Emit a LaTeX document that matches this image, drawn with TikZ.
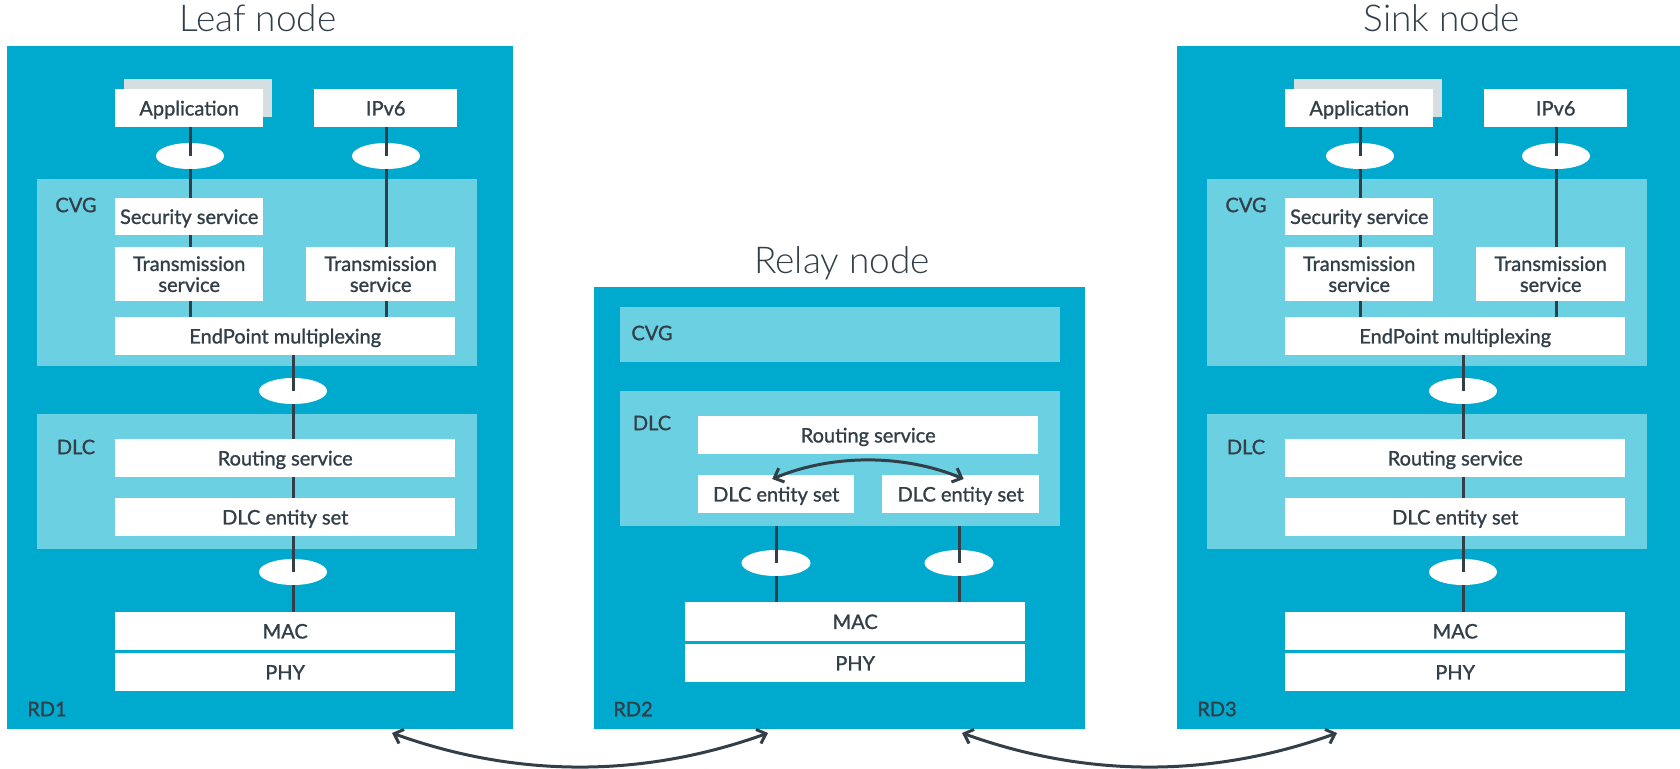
\documentclass[tikz,border=0pt]{standalone}
\usepackage{fontspec}
\setmainfont{Lato}[FakeBold=1.2]
\newfontfamily\titlefont{Lato Light}
\usetikzlibrary{arrows.meta,positioning,shapes.geometric}
\definecolor{panelblue}{RGB}{0,170,206}
\definecolor{layerblue}{RGB}{107,208,225}
\definecolor{ink}{RGB}{51,63,72}
\definecolor{shade}{RGB}{213,223,225}

\begin{document}
\begin{tikzpicture}[x=1pt, y=-1pt,
  panel/.style={fill=panelblue, inner sep=0pt, anchor=north west},
  layer/.style={fill=layerblue, inner sep=0pt, anchor=north west},
  box/.style={fill=white, inner sep=0pt, anchor=north west, text=ink, align=center, font=\fontsize{20}{21}\selectfont},
  one/.style={box, text height=14.5pt, text depth=0pt},
  tag/.style={text=ink, font=\fontsize{20}{21}\selectfont},
  title/.style={text=ink, anchor=base, font=\titlefont\fontsize{37}{40}\selectfont},
  port/.style={ellipse, fill=white, inner sep=0pt, minimum width=68pt, minimum height=26pt},
  link/.style={draw=ink, line width=3pt},
  hop/.style={draw=ink, line width=3pt, >={Straight Barb[length=8pt,width=15pt]}, <->}]
	\path[use as bounding box, fill=white] (0,0) rectangle (1680,768);

	% leaf and sink nodes share one stack
	\foreach \p/\dx/\ttl/\tx/\rd in {L/0/Leaf node/258/RD1, S/1170/Sink node/272/RD3} {
	\begin{scope}[xshift=\dx pt]
	\node[panel, minimum width=506pt, minimum height=683pt] (\p-panel) at (7,46) {};
	\node[title] (\p-title) at (\tx,32) {\ttl};
	\node[layer, minimum width=440pt, minimum height=187pt] (\p-cvg) at (37,179) {};
	\node[layer, minimum width=440pt, minimum height=135pt] (\p-dlc) at (37,414) {};
	\node[tag] (\p-cvgtag) at (76,205) {CVG};
	\node[tag] (\p-dlctag) at (76,447) {DLC};
	\node[tag] (\p-rd) at (47,709) {\rd};
	\node[box, fill=shade, minimum width=148pt, minimum height=38pt] (\p-shadow) at (124,79) {};
	\node[one, minimum width=148pt, minimum height=38pt] (\p-app) at (115,89) {Application};
	\node[one, minimum width=143pt, minimum height=38pt] (\p-ip) at (314,89) {IPv6};
	\node[one, minimum width=148pt, minimum height=37pt] (\p-sec) at (115,198) {Security service};
	\node[box, minimum width=148pt, minimum height=54pt] (\p-tra) at (115,247) {Transmission\\service};
	\node[box, minimum width=149pt, minimum height=54pt] (\p-trb) at (306,247) {Transmission\\service};
	\node[one, minimum width=340pt, minimum height=38pt] (\p-mux) at (115,317) {EndPoint multiplexing};
	\node[one, minimum width=340pt, minimum height=38pt] (\p-rout) at (115,439) {Routing service};
	\node[one, minimum width=340pt, minimum height=38pt] (\p-ent) at (115,498) {DLC entity set};
	\node[one, minimum width=340pt, minimum height=38pt] (\p-mac) at (115,612) {MAC};
	\node[one, minimum width=340pt, minimum height=38pt] (\p-phy) at (115,653) {PHY};
	\node[port] (\p-pa) at (190,156) {};
	\node[port] (\p-pb) at (386,156) {};
	\node[port] (\p-pc) at (293,391) {};
	\node[port] (\p-pd) at (293,572) {};
	\draw[link] (\p-pa |- \p-app.south) -- (\p-pa.center);
	\draw[link] (\p-pa.south) -- (\p-pa |- \p-sec.north);
	\draw[link] (\p-pa |- \p-sec.south) -- (\p-pa |- \p-tra.north);
	\draw[link] (\p-pa |- \p-tra.south) -- (\p-pa |- \p-mux.north);
	\draw[link] (\p-pb |- \p-ip.south) -- (\p-pb.center);
	\draw[link] (\p-pb.south) -- (\p-pb |- \p-trb.north);
	\draw[link] (\p-pb |- \p-trb.south) -- (\p-pb |- \p-mux.north);
	\draw[link] (\p-pc |- \p-mux.south) -- (\p-pc.center);
	\draw[link] (\p-pc.south) -- (\p-pc |- \p-rout.north);
	\draw[link] (\p-pc |- \p-rout.south) -- (\p-pc |- \p-ent.north);
	\draw[link] (\p-pd |- \p-ent.south) -- (\p-pd.center);
	\draw[link] (\p-pd.south) -- (\p-pd |- \p-mac.north);
	\end{scope}
	}

	% relay node
	\node[panel, minimum width=491pt, minimum height=442pt] (R-panel) at (594,287) {};
	\node[title] (R-title) at (842,273) {Relay node};
	\node[layer, minimum width=440pt, minimum height=55pt] (R-cvg) at (620,307) {};
	\node[layer, minimum width=440pt, minimum height=135pt] (R-dlc) at (620,391) {};
	\node[tag] (R-cvgtag) at (652,333) {CVG};
	\node[tag] (R-dlctag) at (652,423) {DLC};
	\node[tag] (R-rd) at (633,709) {RD2};
	\node[one, minimum width=340pt, minimum height=38pt] (R-rout) at (698,416) {Routing service};
	\node[one, minimum width=156pt, minimum height=38pt] (R-enta) at (698,475) {DLC entity set};
	\node[one, minimum width=157pt, minimum height=38pt] (R-entb) at (882,475) {DLC entity set};
	\node[one, minimum width=340pt, minimum height=39pt] (R-mac) at (685,602) {MAC};
	\node[one, minimum width=340pt, minimum height=38pt] (R-phy) at (685,644) {PHY};
	\node[port, minimum width=69pt] (R-pa) at (776,563) {};
	\node[port, minimum width=69pt] (R-pb) at (959,563) {};
	\draw[link] (R-pa |- R-dlc.south) -- (R-pa.center);
	\draw[link] (R-pa.south) -- (R-pa |- R-mac.north);
	\draw[link] (R-pb |- R-dlc.south) -- (R-pb.center);
	\draw[link] (R-pb.south) -- (R-pb |- R-mac.north);
	\draw[hop] ([xshift=-4pt,yshift=-4pt]R-enta.north) .. controls +(60,-25) and +(-60,-25) .. ([xshift=3pt,yshift=-4pt]R-entb.north);

	% links between the radio devices
	\coordinate (LR-a) at (392,733);
	\coordinate (LR-b) at (768,733);
	\coordinate (RS-a) at (962,733);
	\coordinate (RS-b) at (1337,733);
	\draw[hop] (LR-a) .. controls +(125,45) and +(-125,45) .. (LR-b);
	\draw[hop] (RS-a) .. controls +(125,45) and +(-125,45) .. (RS-b);
\end{tikzpicture}
\end{document}
